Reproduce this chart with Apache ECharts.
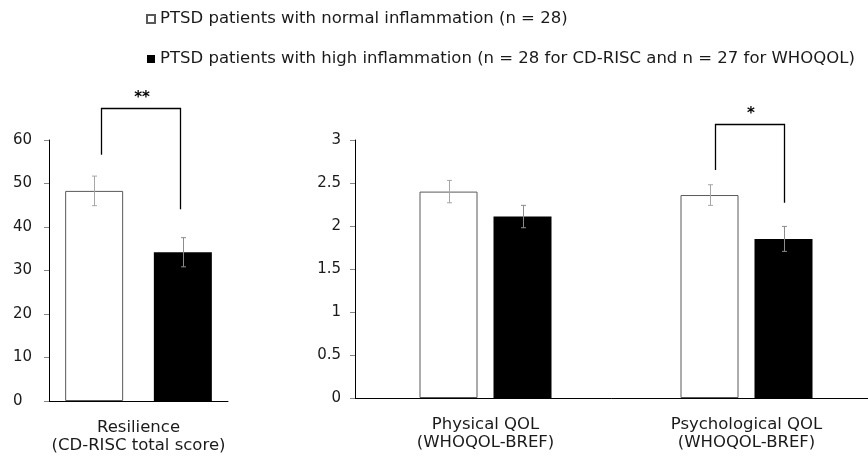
<!DOCTYPE html>
<html>
<head>
<meta charset="utf-8">
<script src="https://cdn.jsdelivr.net/npm/echarts@6/dist/echarts.min.js"></script>
<style>
  html, body { margin: 0; padding: 0; background: #fff; }
  #chart { width: 868px; height: 456px; }
</style>
</head>
<body>
<div id="chart"></div>
<script>
// ---------- data ----------
const seriesNames = [
  'PTSD patients with normal inflammation (n = 28)',
  'PTSD patients with high inflammation (n = 28 for CD-RISC and n = 27 for WHOQOL)'
];
const categoriesLeft = ['Resilience\n(CD-RISC total score)'];
const categoriesRight = ['Physical QOL\n(WHOQOL-BREF)', 'Psychological QOL\n(WHOQOL-BREF)'];

const normalResilience = [48.3];
const normalResilienceSE = [3.4];
const highResilience = [34.2];
const highResilienceSE = [3.35];

const normalQOL = [2.40, 2.36];
const normalQOLSE = [0.13, 0.12];
const highQOL = [2.11, 1.85];
const highQOLSE = [0.13, 0.145];

const leftAxisMin = 0, leftAxisMax = 60, leftAxisStep = 10;
const rightAxisMin = 0, rightAxisMax = 3, rightAxisStep = 0.5;

// significance brackets: [category index, left leg bottom, top, right leg bottom]
const sigLeft = [[0, 56.6, 67.3, 44.1]];
const sigLeftLabel = '**';
const sigRight = [[1, 2.65, 3.19, 2.27]];
const sigRightLabel = '*';

// ---------- styling ----------
const FONT = 'DejaVu Sans';
const TEXT = '#1a1a1a';
const leftBarW = 58, leftGapPx = 30.7;
const rightBarW = 58, rightGapPx = 16;

function errData(mean, se) {
  return mean.map((m, i) => [i, m + se[i], m - se[i]]);
}

function errRender(offset, color) {
  return function (params, api) {
    const top = api.coord([api.value(0), api.value(1)]);
    const bot = api.coord([api.value(0), api.value(2)]);
    const x = Math.round(top[0] + offset) + 0.5;
    const cap = 2.5;
    return {
      type: 'group',
      children: [
        { type: 'line', shape: { x1: x, y1: top[1], x2: x, y2: bot[1] }, style: { stroke: color, lineWidth: 1 } },
        { type: 'line', shape: { x1: x - cap, y1: top[1], x2: x + cap, y2: top[1] }, style: { stroke: color, lineWidth: 1 } },
        { type: 'line', shape: { x1: x - cap, y1: bot[1], x2: x + cap, y2: bot[1] }, style: { stroke: color, lineWidth: 1 } }
      ]
    };
  };
}

function sigRender(leftOff, rightOff, label) {
  return function (params, api) {
    const idx = api.value(0);
    const pL = api.coord([idx, api.value(1)]);
    const pT = api.coord([idx, api.value(2)]);
    const pR = api.coord([idx, api.value(3)]);
    const xl = Math.round(pL[0] + leftOff) + 0.5;
    const xr = Math.round(pL[0] + rightOff) + 0.5;
    const yt = Math.round(pT[1]) + 0.5;
    return {
      type: 'group',
      children: [
        { type: 'polyline', shape: { points: [[xl, pL[1]], [xl, yt], [xr, yt], [xr, pR[1]]] },
          style: { stroke: '#000', lineWidth: 1.3, fill: null } },
        { type: 'text', x: (xl + xr) / 2 + 1, y: yt - 10.5,
          style: { text: label, fontFamily: FONT, fontSize: 15, fontWeight: 'bold', fill: '#000',
                   align: 'center', verticalAlign: 'middle' } }
      ]
    };
  };
}

const chart = echarts.init(document.getElementById('chart'), null, { renderer: 'canvas' });

const yAxisCommon = {
  type: 'value',
  splitLine: { show: false },
  axisLine: { show: true, lineStyle: { color: '#000', width: 1 } },
  axisTick: { show: true, length: 5, lineStyle: { color: '#868686' } }
};
const xAxisCommon = {
  type: 'category',
  axisTick: { show: false },
  axisLine: { show: true, lineStyle: { color: '#000', width: 1 } },
  axisLabel: { fontFamily: FONT, fontSize: 16.5, lineHeight: 18.5, color: TEXT, margin: 17, interval: 0 }
};

chart.setOption({
  animation: false,
  backgroundColor: '#fff',
  legend: {
    orient: 'vertical',
    left: 146,
    top: 9,
    padding: 0,
    itemWidth: 8,
    itemHeight: 8,
    itemGap: 20,
    icon: 'rect',
    data: seriesNames,
    textStyle: { fontFamily: FONT, fontSize: 16.5, lineHeight: 20, color: TEXT },
    selectedMode: false
  },
  grid: [
    { left: 49, top: 140, width: 179, height: 261, outerBoundsMode: 'none', containLabel: false },
    { left: 355, top: 140, width: 522, height: 258, outerBoundsMode: 'none', containLabel: false }
  ],
  xAxis: [
    Object.assign({}, xAxisCommon, { gridIndex: 0, data: categoriesLeft }),
    Object.assign({}, xAxisCommon, { gridIndex: 1, data: categoriesRight })
  ],
  yAxis: [
    Object.assign({}, yAxisCommon, {
      gridIndex: 0, min: leftAxisMin, max: leftAxisMax, interval: leftAxisStep,
      axisLabel: { fontFamily: FONT, fontSize: 15, color: TEXT, align: 'left', margin: 36 }
    }),
    Object.assign({}, yAxisCommon, {
      gridIndex: 1, min: rightAxisMin, max: rightAxisMax, interval: rightAxisStep,
      axisLabel: { fontFamily: FONT, fontSize: 15, color: TEXT, margin: 14 }
    })
  ],
  series: [
    { name: seriesNames[0], type: 'bar', xAxisIndex: 0, yAxisIndex: 0, data: normalResilience,
      barWidth: leftBarW, barGap: (leftGapPx / leftBarW * 100) + '%',
      itemStyle: { color: '#fff', borderColor: '#595959', borderWidth: 1 } },
    { name: seriesNames[1], type: 'bar', xAxisIndex: 0, yAxisIndex: 0, data: highResilience,
      barWidth: leftBarW, barGap: (leftGapPx / leftBarW * 100) + '%',
      itemStyle: { color: '#000' } },
    { name: seriesNames[0], type: 'bar', xAxisIndex: 1, yAxisIndex: 1, data: normalQOL,
      barWidth: rightBarW, barGap: (rightGapPx / rightBarW * 100) + '%',
      itemStyle: { color: '#fff', borderColor: '#595959', borderWidth: 1 } },
    { name: seriesNames[1], type: 'bar', xAxisIndex: 1, yAxisIndex: 1, data: highQOL,
      barWidth: rightBarW, barGap: (rightGapPx / rightBarW * 100) + '%',
      itemStyle: { color: '#000' } },

    { type: 'custom', xAxisIndex: 0, yAxisIndex: 0, z: 5, clip: false, silent: true,
      renderItem: errRender(-(leftBarW + leftGapPx) / 2, '#a6a6a6'),
      data: errData(normalResilience, normalResilienceSE) },
    { type: 'custom', xAxisIndex: 0, yAxisIndex: 0, z: 5, clip: false, silent: true,
      renderItem: errRender((leftBarW + leftGapPx) / 2, '#8c8c8c'),
      data: errData(highResilience, highResilienceSE) },
    { type: 'custom', xAxisIndex: 1, yAxisIndex: 1, z: 5, clip: false, silent: true,
      renderItem: errRender(-(rightBarW + rightGapPx) / 2, '#a6a6a6'),
      data: errData(normalQOL, normalQOLSE) },
    { type: 'custom', xAxisIndex: 1, yAxisIndex: 1, z: 5, clip: false, silent: true,
      renderItem: errRender((rightBarW + rightGapPx) / 2, '#8c8c8c'),
      data: errData(highQOL, highQOLSE) },

    { type: 'custom', xAxisIndex: 0, yAxisIndex: 0, z: 6, clip: false, silent: true,
      renderItem: sigRender(-38, 41, sigLeftLabel), data: sigLeft },
    { type: 'custom', xAxisIndex: 1, yAxisIndex: 1, z: 6, clip: false, silent: true,
      renderItem: sigRender(-32, 37, sigRightLabel), data: sigRight }
  ]
});
</script>
</body>
</html>
